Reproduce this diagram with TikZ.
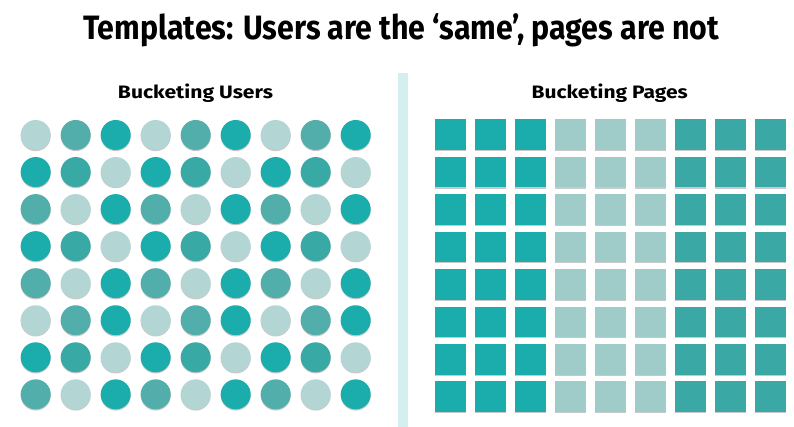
\documentclass[tikz,border=0pt]{standalone}
\usepackage{fontspec}
\setmainfont{Fira Sans}
\usepackage{graphicx}
\usetikzlibrary{shadows}
\definecolor{cD}{HTML}{1BADAB}
\definecolor{cA}{HTML}{52AEAA}
\definecolor{cB}{HTML}{38A9A4}
\definecolor{cL}{HTML}{B3D6D5}
\definecolor{sD}{HTML}{1BADAB}
\definecolor{sL}{HTML}{9FCBC9}
\definecolor{sM}{HTML}{3AA9A6}
\definecolor{divc}{HTML}{D4EFF0}
\tikzset{
  dot/.style={circle, inner sep=0pt, minimum size=30pt, draw=none,
    drop shadow={shadow xshift=0pt, shadow yshift=-1.2pt, opacity=0.35, fill=black!60}},
  tile/.style={rectangle, inner sep=0pt, minimum size=30.5pt, draw=none,
    drop shadow={shadow xshift=0pt, shadow yshift=-1.2pt, opacity=0.35, fill=black!60}},
  heading/.style={anchor=base, inner sep=0pt, text=black},
}
\begin{document}
\begin{tikzpicture}[x=1pt, y=-1pt]
\useasboundingbox[fill=white] (0,0) rectangle (794,427);
% title
\node[heading] (title) at (401.2,39.3)
  {\resizebox{636pt}{\height}{\fontsize{33.8}{40}\selectfont\bfseries Templates: Users are the ‘same’, pages are not}};
% subtitles
\node[heading] (subU) at (195.5,98.5)
  {\resizebox{155pt}{\height}{\fontsize{18}{22}\selectfont\bfseries Bucketing Users}};
\node[heading] (subP) at (609.7,98.5)
  {\resizebox{156pt}{\height}{\fontsize{18}{22}\selectfont\bfseries Bucketing Pages}};
% divider
\fill[divc] (398,72.7) rectangle (408,427);
% circles
\foreach \row [count=\j] in {
  {L,A,D,L,A,D,L,A,D},
  {D,B,L,D,B,L,D,B,L},
  {A,L,D,A,L,D,A,L,D},
  {D,B,L,D,B,L,D,B,L},
  {A,L,D,A,L,D,A,L,D},
  {L,A,D,L,A,D,L,A,D},
  {D,B,L,D,B,L,D,B,L},
  {A,L,D,A,L,D,A,L,D}} {
  \foreach \c [count=\i] in \row {
    \node[dot, fill=c\c] (circ-\j-\i) at ({35.7+40*(\i-1)},{135+37.05*(\j-1)}) {};
  }
}
% squares
\foreach \j in {1,...,8} {
  \foreach \c [count=\i] in {D,D,D,L,L,L,M,M,M} {
    \node[tile, fill=s\c] (sq-\j-\i) at ({450.3+40*(\i-1)},{134.7+37.43*(\j-1)}) {};
  }
}
\end{tikzpicture}
\end{document}
